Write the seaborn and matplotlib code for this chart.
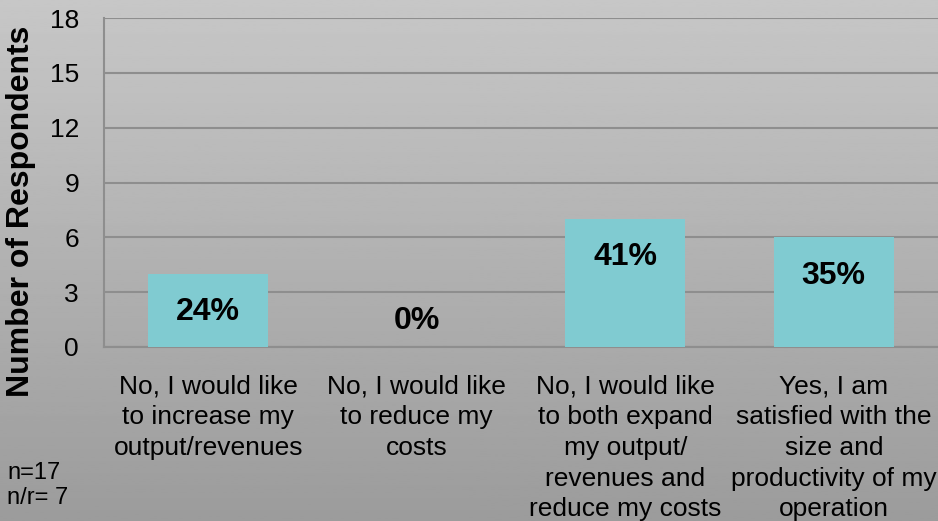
import numpy as np
import pandas as pd
import matplotlib
matplotlib.use('Agg')
import matplotlib.pyplot as plt
import seaborn as sns

categories = ['No, I would like\nto increase my\noutput/revenues',
              'No, I would like\nto reduce my\ncosts',
              'No, I would like\nto both expand\nmy output/\nrevenues and\nreduce my costs',
              'Yes, I am\nsatisfied with the\nsize and\nproductivity of my\noperation']
counts = [4, 0, 7, 6]
pct_labels = ['24%', '0%', '41%', '35%']
y_ticks = [0, 3, 6, 9, 12, 15, 18]

df = pd.DataFrame({'category': categories, 'count': counts})

sns.set_style('white')
plt.rcParams['font.family'] = ['Liberation Sans', 'DejaVu Sans']
plt.rcParams['text.color'] = 'black'
plt.rcParams['xtick.color'] = 'black'
plt.rcParams['ytick.color'] = 'black'
plt.rcParams['axes.labelcolor'] = 'black'

fig = plt.figure(figsize=(9.38, 5.21), dpi=100)

# gradient background
bg = fig.add_axes([0, 0, 1, 1], zorder=-1)
grad = np.linspace(0.78, 0.61, 256).reshape(-1, 1)
bg.imshow(grad, aspect='auto', cmap='gray', vmin=0, vmax=1, extent=[0, 1, 0, 1])
bg.axis('off')

ax = fig.add_axes([104 / 938, 1 - 347 / 521, 834 / 938, 329 / 521])
ax.patch.set_alpha(0)
sns.barplot(data=df, x='category', y='count', color='#80cbd1', width=0.577,
            saturation=1, linewidth=0, ax=ax, zorder=3)

ax.set_ylim(0, 18)
ax.set_xlim(-0.5, 3.5)
ax.set_yticks(y_ticks)
ax.yaxis.grid(True, color='#8e8e8e', linewidth=1.5, zorder=0)
ax.set_axisbelow(True)
for s in ['top', 'right']:
    ax.spines[s].set_visible(False)
for s in ['left', 'bottom']:
    ax.spines[s].set_color('#8e8e8e')
    ax.spines[s].set_linewidth(1.5)

ax.tick_params(axis='y', length=0, pad=18, labelsize=19)
ax.tick_params(axis='x', length=0, pad=20, labelsize=19)
for lbl in ax.get_xticklabels():
    lbl.set_linespacing(1.35)
ax.set_xlabel('')
ax.set_ylabel('Number of Respondents', fontsize=23, fontweight='bold')
ax.yaxis.set_label_coords(-0.0815, 0.413)

for i, (v, p) in enumerate(zip(counts, pct_labels)):
    ax.text(i, max(v - 2.1, 1.4), p, ha='center', va='center',
            fontsize=23, fontweight='bold', color='black', zorder=4)

fig.text(7 / 938, 1 - 473 / 521, 'n=17', fontsize=17, va='center')
fig.text(7 / 938, 1 - 498 / 521, 'n/r= 7', fontsize=17, va='center')

fig.savefig('out.png', dpi=100)
